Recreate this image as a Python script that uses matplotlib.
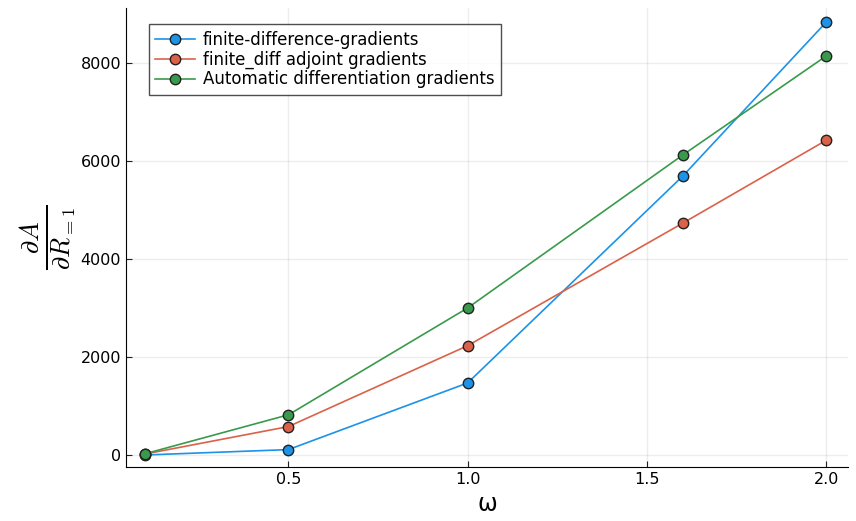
import numpy as np
import matplotlib
matplotlib.use("Agg")
import matplotlib.pyplot as plt

plt.rcParams['mathtext.fontset'] = 'cm'

omega = [0.1, 0.5, 1.0, 1.6, 2.0]
fd_grad = [0, 110, 1470, 5690, 8830]
adj_grad = [20, 580, 2230, 4730, 6420]
ad_grad = [25, 820, 3000, 6120, 8140]

labels = ["finite-difference-gradients", "finite_diff adjoint gradients",
          "Automatic differentiation gradients"]
colors = ["#1C92E8", "#DB6149", "#3A9A4C"]

fig = plt.figure(figsize=(8.56, 5.21), dpi=100)
ax = fig.add_axes([126/856, 1 - 467/521, (848-126)/856, (467-8)/521])

for ys, lab, c in zip([fd_grad, adj_grad, ad_grad], labels, colors):
    ax.plot(omega, ys, color=c, lw=1.2, marker='o', ms=7.5,
            markerfacecolor=c, markeredgecolor='#222222', markeredgewidth=1.0,
            label=lab)

ax.set_xlim(0.047, 2.061)
ax.set_ylim(-245, 9120)
ax.set_xticks([0.5, 1.0, 1.5, 2.0])
ax.set_xticklabels(["0.5", "1.0", "1.5", "2.0"])
ax.set_yticks([0, 2000, 4000, 6000, 8000])
ax.grid(True, color='#000000', alpha=0.07, lw=1)
ax.spines['top'].set_visible(False)
ax.spines['right'].set_visible(False)
ax.tick_params(direction='in', labelsize=11.5, length=4, color='#222222')

ax.set_xlabel(r"ω", fontsize=17)
ax.set_ylabel(r"$\frac{\partial A}{\partial R_{=1}}$", fontsize=27, labelpad=2)

leg = ax.legend(loc='upper left', bbox_to_anchor=(0.02, 0.983), fontsize=12,
                frameon=True, fancybox=False, edgecolor='#222222',
                borderpad=0.4, labelspacing=0.1, handlelength=2.4,
                handletextpad=0.45)
leg.get_frame().set_linewidth(1.0)

fig.savefig("out.png", dpi=100)
